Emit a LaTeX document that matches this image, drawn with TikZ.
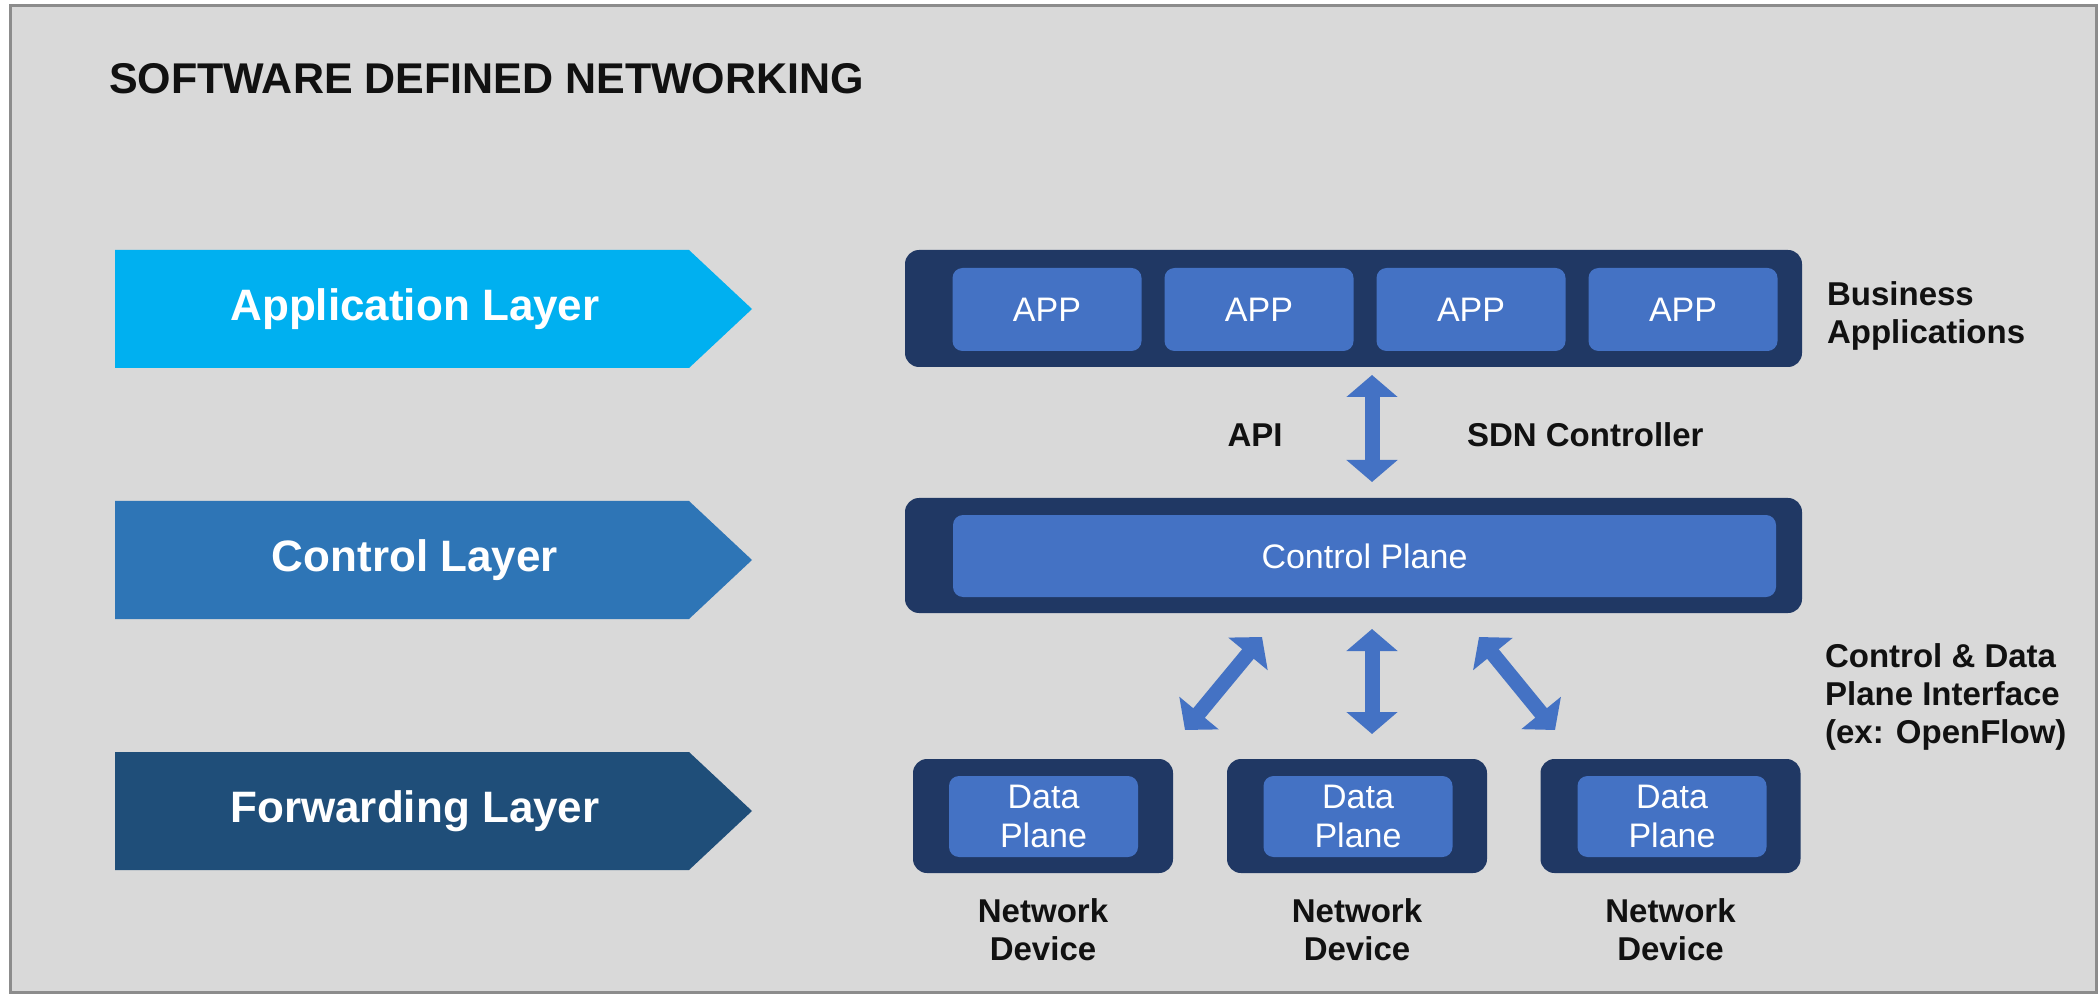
\documentclass[tikz,border=0pt]{standalone}
\usepackage{fontspec}
\setmainfont{Liberation Sans}
\usetikzlibrary{positioning,calc,arrows.meta}

\definecolor{bggray}{HTML}{D9D9D9}
\definecolor{framegray}{HTML}{8C8C8C}
\definecolor{appcyan}{HTML}{00B0F0}
\definecolor{ctrlblue}{HTML}{2E75B6}
\definecolor{fwdblue}{HTML}{1F4E79}
\definecolor{navy}{HTML}{203864}
\definecolor{boxblue}{HTML}{4472C4}
\definecolor{inkblack}{HTML}{111111}

\tikzset{
  layertext/.style={text=white, font=\fontsize{22}{25}\selectfont\bfseries},
  container/.style={fill=navy, rounded corners=7pt, inner sep=0pt},
  inbox/.style={fill=boxblue, rounded corners=5pt, inner sep=0pt, text=white,
    align=center, font=\fontsize{17}{19.5}\selectfont},
  blacklabel/.style={text=inkblack, font=\fontsize{16.5}{19}\selectfont\bfseries},
  dblarrow/.style={draw=boxblue, line width=7.5pt,
    {Triangle[width=25pt,length=11pt]}-{Triangle[width=25pt,length=11pt]}}
}

\begin{document}
\begin{tikzpicture}[x=0.5pt, y=-0.5pt]
    \useasboundingbox (0,0) rectangle (2099,994);
    % Frame and background
    \fill[white] (0,0) rectangle (2099,994);
    \draw[framegray, line width=1.5pt, fill=bggray] (10,6) rectangle (2096,992);

    % Title
    \node[anchor=base west, text=inkblack, font=\fontsize{21.5}{24}\selectfont\bfseries] (title) at (102,94) {SOFTWARE DEFINED NETWORKING};

    % Layer arrows on the left
    \fill[appcyan] (115,250) -- (689,250) -- (752,309) -- (689,368) -- (115,368) -- cycle;
    \node[layertext] (applayer) at (415,309) {Application Layer};
    \fill[ctrlblue] (115,501) -- (689,501) -- (752,560) -- (689,619) -- (115,619) -- cycle;
    \node[layertext] (ctrllayer) at (415,560) {Control Layer};
    \fill[fwdblue] (115,752) -- (689,752) -- (752,811) -- (689,870) -- (115,870) -- cycle;
    \node[layertext] (fwdlayer) at (415,811) {Forwarding Layer};

    % Application bar
    \node[container, minimum width=448.5pt, minimum height=58.5pt] (appbar) at (1353.5,308.5) {};
    \foreach \i/\x in {1/1047,2/1259,3/1471,4/1683}
        \node[inbox, minimum width=94.5pt, minimum height=41.5pt] (app\i) at (\x,309.5) {APP};
    \node[blacklabel, anchor=west, align=left] (busapps) at (1820,316) {Business\\Applications};

    % Control bar
    \node[container, minimum width=448.5pt, minimum height=57.5pt] (ctrlbar) at (1353.5,555.5) {};
    \node[inbox, minimum width=411.5pt, minimum height=41pt] (ctrlplane) at (1364.5,556) {Control Plane};

    % API arrow
    \coordinate (apitop) at (1372,375);
    \coordinate (apibot) at (1372,482);
    \draw[dblarrow] (apitop) -- (apibot);
    \node[blacklabel] (api) at (1255,435) {API};
    \node[blacklabel, anchor=west] (sdnctrl) at (1460,435) {SDN Controller};

    % Network devices
    \foreach \i/\x/\y in {1/1043/1043.5,2/1357/1358,3/1670.5/1672} {
        \node[container, minimum width=130pt, minimum height=57pt] (dev\i) at (\x,816) {};
        \node[inbox, minimum width=94.5pt, minimum height=40.5pt] (data\i) at (\y,816.5) {Data\\Plane};
        \node[blacklabel, align=center] (devlbl\i) at (\x,930) {Network\\Device};
    }

    % Southbound arrows
    \coordinate (s1top) at (1262,637);
    \coordinate (s1bot) at (1185,730);
    \coordinate (s2top) at (1372,629);
    \coordinate (s2bot) at (1372,734);
    \coordinate (s3top) at (1479,637);
    \coordinate (s3bot) at (1555,730);
    \draw[dblarrow] (s1top) -- (s1bot);
    \draw[dblarrow] (s2top) -- (s2bot);
    \draw[dblarrow] (s3top) -- (s3bot);
    \node[blacklabel, anchor=west, align=left] (cdpi) at (1818,697) {Control \& Data\\Plane Interface\\(ex: OpenFlow)};
\end{tikzpicture}
\end{document}
